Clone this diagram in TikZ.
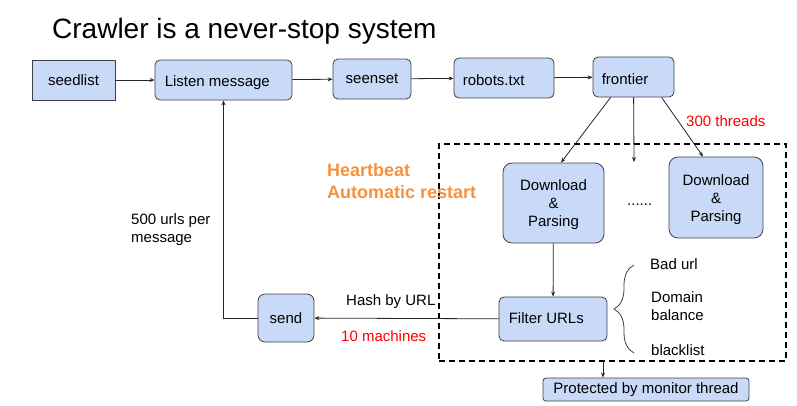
\documentclass[tikz,border=0pt]{standalone}
\usepackage{fontspec}
\setmainfont{Liberation Sans}
\usetikzlibrary{arrows.meta,decorations.pathreplacing,calc}
\definecolor{boxfill}{HTML}{C9DAF8}
\definecolor{boxline}{HTML}{404040}
\definecolor{hbOrange}{HTML}{F7913D}
\definecolor{redlbl}{HTML}{FF0000}
\begin{document}
\begin{tikzpicture}[x=1pt,y=-1pt,
  every node/.style={font=\fontsize{15}{18}\selectfont},
  box/.style={draw=boxline, fill=boxfill, line width=0.8pt, rounded corners=5pt, inner sep=0pt, align=center},
  btxt/.style={inner sep=0pt, anchor=base west},
  mtxt/.style={inner sep=0pt, anchor=base},
  lbl/.style={inner sep=0pt, anchor=west},
  arr/.style={draw=black!85, line width=0.8pt, -{Stealth[length=5pt,width=4pt]}},
  plain/.style={draw=black!85, line width=0.8pt}
]
\useasboundingbox (0,0) rectangle (797,405);

% title
\node[inner sep=0pt, anchor=base west, font=\fontsize{28}{32}\selectfont] (title) at (52,38) {Crawler is a never-stop system};

% top row
\node[box, rounded corners=0pt, minimum width=83pt, minimum height=40pt] (seed) at (73.5,80) {seedlist};
\node[box, minimum width=137pt, minimum height=40pt] (listen) at (223.5,80) {};
\node[btxt] (listenT) at ($(listen.west)+(10,6.5)$) {Listen message};
\node[box, minimum width=78pt, minimum height=40pt] (seen) at (372,79) {seenset};
\node[box, minimum width=100pt, minimum height=40pt] (robots) at (504,78) {};
\node[btxt] (robotsT) at ($(robots.west)+(9,7)$) {robots.txt};
\node[box, minimum width=81pt, minimum height=40pt] (front) at (633.5,77) {};
\node[btxt] (frontT) at ($(front.west)+(9,7)$) {frontier};

\draw[arr] (seed) -- (listen);
\draw[arr] (listen) -- (seen);
\draw[arr] (seen) -- (robots);
\draw[arr] (robots) -- (front);

% dashed group
\node[draw=black, line width=1.3pt, dash pattern=on 6pt off 4pt, minimum width=347pt, minimum height=217pt, inner sep=0pt] (grp) at (612.5,252.5) {};

% download & parsing
\node[box, rounded corners=9pt, minimum width=101pt, minimum height=80pt] (dp1) at (553.5,203) {};
\node[mtxt] (dp1a) at ($(dp1.center)+(0,-12.3)$) {Download};
\node[mtxt] (dp1b) at ($(dp1.center)+(0,5.3)$) {\&};
\node[mtxt] (dp1c) at ($(dp1.center)+(0,23.5)$) {Parsing};
\node[box, rounded corners=9pt, minimum width=94pt, minimum height=81pt] (dp2) at (716,197.5) {};
\node[mtxt] (dp2a) at ($(dp2.center)+(0,-12.5)$) {Download};
\node[mtxt] (dp2b) at ($(dp2.center)+(0,5.5)$) {\&};
\node[mtxt] (dp2c) at ($(dp2.center)+(0,23.8)$) {Parsing};
\node[inner sep=0pt, anchor=base west] (dots) at (627,205) {......};

% frontier arrows
\coordinate (f1) at ($(front.south west)+(18,0)$);
\coordinate (f2) at ($(front.south west)+(41,0)$);
\coordinate (f3) at ($(front.south west)+(69,0)$);
\coordinate (mid) at (634,162);
\draw[arr] (f1) -- (dp1.north -| 561,0);
\draw[arr] (f2) -- (mid);
\draw[arr] (f3) -- (dp2.north -| 703,0);
\node[lbl, text=redlbl] (thr) at (686,121) {300 threads};

% filter
\node[box, minimum width=108pt, minimum height=44pt] (filter) at (553,319) {};
\node[btxt] (filterT) at ($(filter.west)+(10,4.5)$) {Filter URLs};
\draw[arr] (dp1) -- (filter);

% brace and notes
\draw[boxline, line width=0.8pt, decorate, decoration={brace, amplitude=20pt}] (634,353) -- (634,265);
\node[lbl] (bad) at (650,264) {Bad url};
\node[lbl, align=left] (dom) at (651,306.5) {Domain\\balance};
\node[lbl] (black) at (651,350) {blacklist};

% send
\node[box, rounded corners=7pt, minimum width=56pt, minimum height=48pt] (send) at (286,318) {send};
\draw[arr] (filter) -- (send);
\draw[arr] (send.west) -| (listen.south);
\node[lbl] (hash) at (346,302) {Hash by URL};
\node[lbl, text=redlbl] (mach) at (341,336) {10 machines};
\node[lbl, align=left] (urls) at (131,229.5) {500 urls per\\message};

% heartbeat
\node[lbl, align=left, text=hbOrange, font=\fontsize{18}{22}\selectfont\bfseries] (hb) at (327,181) {Heartbeat\\Automatic restart};

% protected
\node[box, rounded corners=3pt, minimum width=206pt, minimum height=23pt] (prot) at (646,389.5) {Protected by monitor thread};
\coordinate (g) at (603,361);
\draw[arr] (g) -- (g |- prot.north);
\end{tikzpicture}
\end{document}
